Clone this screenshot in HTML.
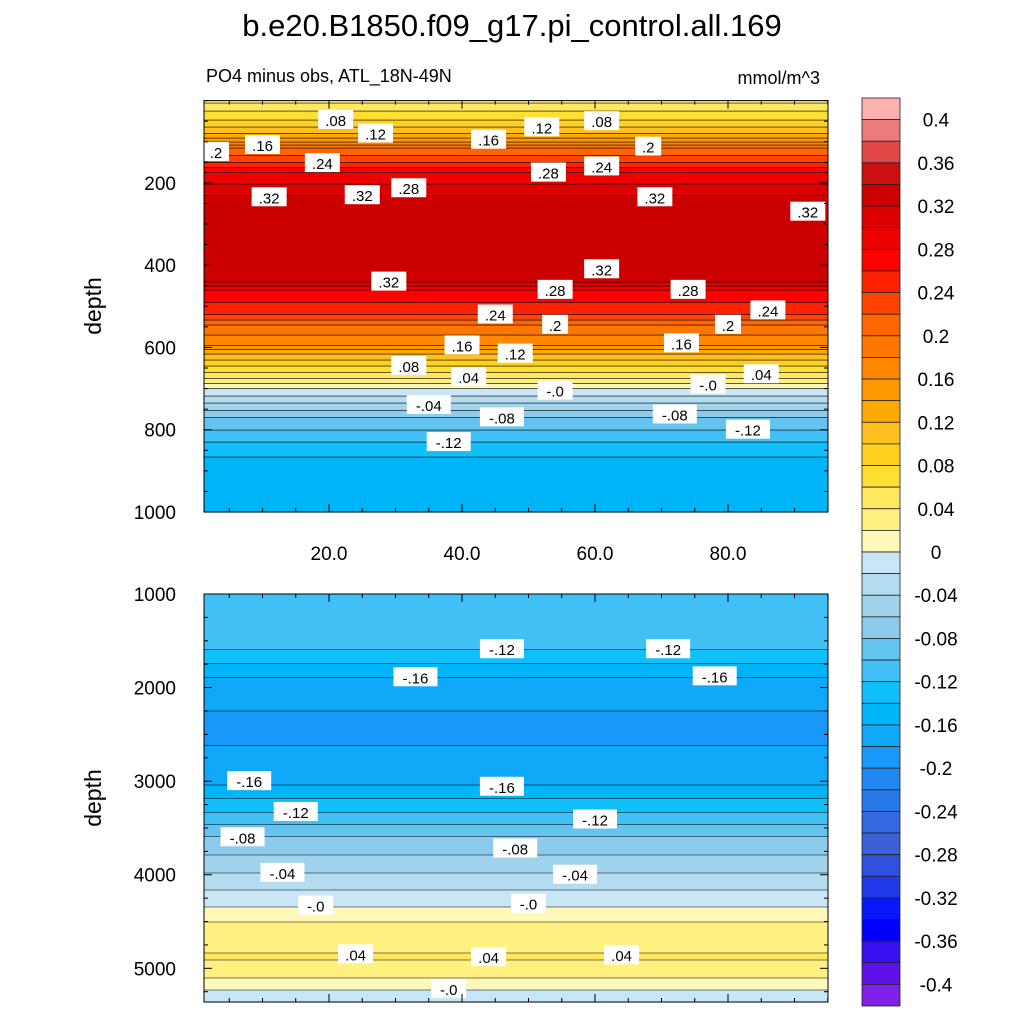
<!DOCTYPE html>
<html><head><meta charset="utf-8"><style>
body{margin:0;background:#fff;width:1024px;height:1024px;overflow:hidden;font-family:"Liberation Sans",sans-serif}
svg text{font-family:"Liberation Sans",sans-serif}
</style></head><body>
<svg id="chart" width="1024" height="1024" viewBox="0 0 1024 1024">
<text x="512" y="36" text-anchor="middle" font-size="31">b.e20.B1850.f09_g17.pi_control.all.169</text>
<text x="206" y="82" font-size="18">PO4 minus obs, ATL_18N-49N</text>
<text x="820" y="84" text-anchor="end" font-size="18">mmol/m^3</text>
<g id="top"></g>
<g id="bot"></g>
<g id="cbar"></g>
<text transform="translate(101,306) rotate(-90)" text-anchor="middle" font-size="23">depth</text>
<text transform="translate(101,798) rotate(-90)" text-anchor="middle" font-size="23">depth</text>
</svg>
<script>
const colors=["#ffb0b0","#ee7b7b","#e04848","#cc1010","#cc0000","#dd0000","#ee0000","#ff0000","#ff2200","#ff4400","#ff6600","#ff7700","#ff8800","#ff9900","#ffaa00","#ffc020","#ffd020","#ffe030","#ffe860","#fff080","#fff8b8",
"#c8e6f5","#b4dcf0","#a0d4ec","#8ccbeb","#64c4f0","#40c0f4","#10c0fa","#00b4f8","#10a8f8","#1898f8","#2088f0","#2878e8","#3468e0","#3c60d8","#3050e0","#2038e8","#0818f8","#0000ff","#3810f0","#6010e8","#8020e8"];
const cbarTicks=[0.4,0.36,0.32,0.28,0.24,0.2,0.16,0.12,0.08,0.04,0,-0.04,-0.08,-0.12,-0.16,-0.2,-0.24,-0.28,-0.32,-0.36,-0.4];
const topDepths=[0,20,47,80,100,115,150,175,230,280,330,380,420,440,460,520,545,595,615,645,675,700,735,770,830,870,1000];
const topValues=[0.035,0.055,0.08,0.12,0.16,0.2,0.24,0.28,0.32,0.336,0.34,0.336,0.33,0.32,0.28,0.24,0.2,0.16,0.12,0.08,0.04,0.0,-0.04,-0.08,-0.12,-0.142,-0.145];
const botDepths=[1000,1300,1590,1890,2100,2400,2700,3040,3330,3590,3980,4340,4500,4870,5000,5230,5360];
const botValues=[-0.105,-0.11,-0.12,-0.16,-0.175,-0.185,-0.178,-0.16,-0.12,-0.08,-0.04,0.0,0.02,0.042,0.035,0.0,-0.02];
const topLabels=[[".08",21,47],[".12",27,80],[".16",10,108],[".2",3,125],[".24",19,152],[".16",44,95],[".12",52,65],[".08",61,50],[".28",53,175],[".24",61,160],[".2",68,112],[".32",11,235],[".32",25,230],[".28",32,213],[".32",69,235],[".32",92,270],[".32",29,440],[".32",61,410],[".28",54,460],[".28",74,460],[".24",45,520],[".2",54,545],[".2",80,545],[".24",86,510],[".16",40,595],[".16",73,590],[".12",48,615],[".08",32,645],[".04",41,672],[".04",85,665],["-.0",54,705],["-.0",77,690],["-.04",35,740],["-.08",46,770],["-.08",72,763],["-.12",38,830],["-.12",83,800]];
const botLabels=[["-.12",46,1590],["-.12",71,1590],["-.16",33,1890],["-.16",78,1880],["-.16",8,3000],["-.16",46,3060],["-.12",15,3330],["-.12",60,3410],["-.08",7,3600],["-.08",48,3720],["-.04",13,3980],["-.04",57,4000],["-.0",18,4330],["-.0",50,4310],[".04",24,4850],[".04",44,4880],[".04",64,4860],["-.0",38,5220]];
const NS="http://www.w3.org/2000/svg";
function mk(tag,attrs,parent){const e=document.createElementNS(NS,tag);for(const k in attrs)e.setAttribute(k,attrs[k]);parent.appendChild(e);return e;}
function interp(ds,vs,d){if(d<=ds[0])return vs[0];for(let i=1;i<ds.length;i++){if(d<=ds[i]){const t=(d-ds[i-1])/(ds[i]-ds[i-1]);return vs[i-1]+t*(vs[i]-vs[i-1]);}}return vs[vs.length-1];}
function bin(v){let i=Math.floor((0.42-v)/0.02);return Math.max(0,Math.min(41,i));}
const xScale=x=>196+x*6.65;
function band(g,y,h,c){const r=mk('rect',{x:204,y:y,width:624,height:h+0.6,fill:c},g);
  
  }
function panel(g,ds,vs,y0,y1,dMin,dMax,labels,yticks,minorStep,xLabels){
  const ys=d=>y0+(d-dMin)/(dMax-dMin)*(y1-y0);
  let runStart=y0,cur=bin(interp(ds,vs,dMin));
  const lines=[];
  for(let y=y0;y<=y1;y+=0.5){
    const d=dMin+(y-y0)/(y1-y0)*(dMax-dMin);
    const b=bin(interp(ds,vs,d));
    if(b!==cur){
      band(g,runStart,y-runStart,colors[cur]);
      lines.push(y);
      runStart=y;cur=b;
    }
  }
  band(g,runStart,y1-runStart,colors[cur]);
  lines.forEach(y=>{const l=mk('line',{x1:204,x2:828,y1:y,y2:y,stroke:'#000','stroke-width':0.6},g);
    
    });
  labels.forEach(([t,x,d])=>{
    const cx=xScale(x),cy=ys(d);const w=t.length*9+8;
    const r=mk('rect',{x:cx-w/2,y:cy-10,width:w,height:19,fill:'#fff'},g);
    
    
    const tx=mk('text',{x:cx,y:cy+6,'text-anchor':'middle','font-size':15},g);tx.textContent=t;
    
    
  });
  const fr=mk('rect',{x:204,y:y0,width:624,height:y1-y0,fill:'none',stroke:'#000','stroke-width':1},g);
  
  
  for(let x=5;x<=95;x+=5){const px=xScale(x);if(px<204||px>828)continue;const L=x%20===0?8:4;
    mk('line',{x1:px,x2:px,y1:y0,y2:y0+L,stroke:'#000'},g);mk('line',{x1:px,x2:px,y1:y1,y2:y1-L,stroke:'#000'},g);}
  for(let d=Math.ceil(dMin/minorStep)*minorStep;d<=dMax;d+=minorStep){const py=ys(d);const major=yticks.includes(d);const L=major?8:4;
    mk('line',{x1:204,x2:204+L,y1:py,y2:py,stroke:'#000'},g);mk('line',{x1:828,x2:828-L,y1:py,y2:py,stroke:'#000'},g);}
  yticks.forEach(d=>{const t=mk('text',{x:176,y:ys(d)+7,'text-anchor':'end','font-size':19},g);t.textContent=d;
    
    });
  if(xLabels){[20,40,60,80].forEach(x=>{const t=mk('text',{x:xScale(x),y:560,'text-anchor':'middle','font-size':19},g);t.textContent=x.toFixed(1);
    
    });}
}
panel(document.getElementById('top'),topDepths,topValues,100.6,512,0,1000,topLabels,[200,400,600,800,1000],50,true);
panel(document.getElementById('bot'),botDepths,botValues,594,1002,1000,5360,botLabels,[1000,2000,3000,4000,5000],250,false);
const cb=document.getElementById('cbar');const bh=908/42;
colors.forEach((c,i)=>{const r=mk('rect',{x:862,y:98+i*bh,width:38,height:bh,fill:c,stroke:'#222','stroke-width':0.8},cb);
  
  });
cbarTicks.forEach(v=>{const y=98+(0.42-v)/0.02*bh;const t=mk('text',{x:936,y:y+7,'text-anchor':'middle','font-size':19},cb);
  t.textContent=v===0?'0':String(v);
  
  });
</script>
</body></html>
